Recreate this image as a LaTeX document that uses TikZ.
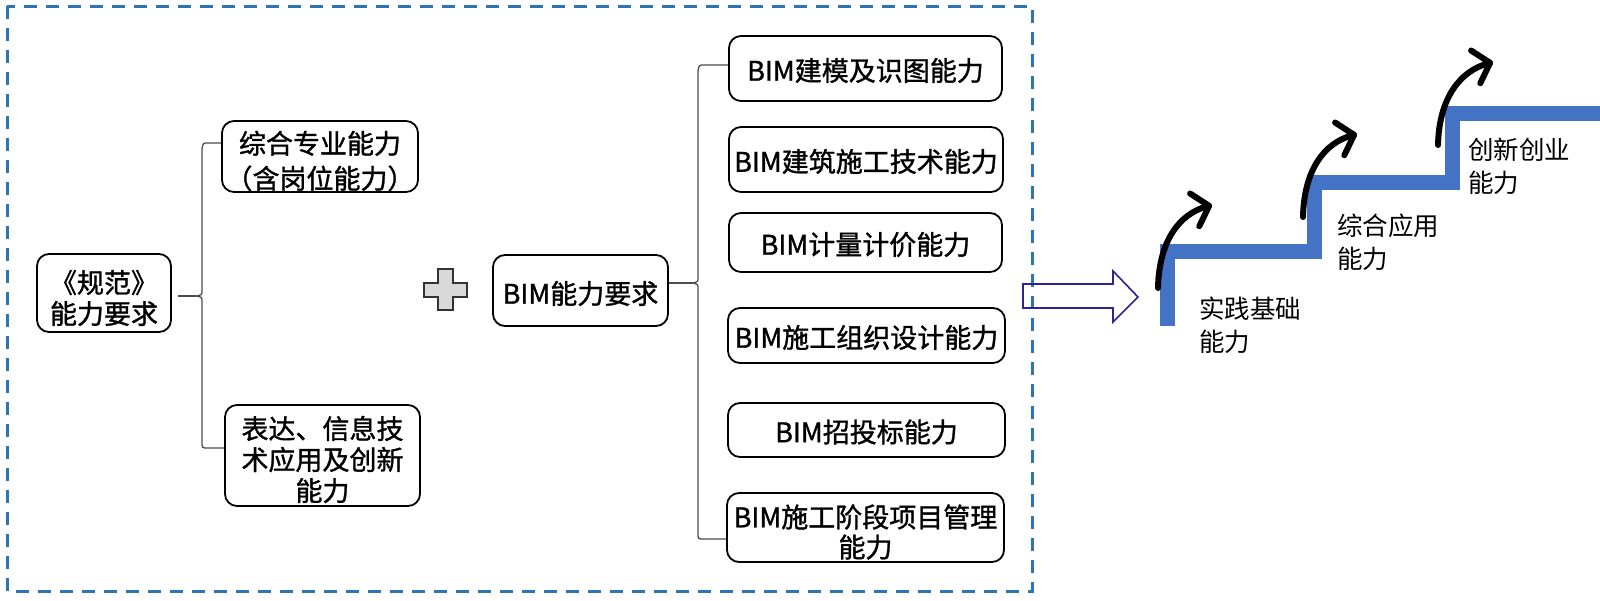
\documentclass[tikz,border=0pt]{standalone}
\usepackage{fontspec}
\newfontfamily\cjk{Noto Sans CJK SC}
\newfontfamily\cjkb{Noto Sans CJK SC}[FakeBold=1.2]
\usetikzlibrary{arrows.meta}
\definecolor{frameblue}{RGB}{46,117,182}
\definecolor{stairblue}{RGB}{68,114,196}
\definecolor{navyline}{RGB}{43,35,150}
\definecolor{plusgray}{RGB}{217,217,217}
\begin{document}
\begin{tikzpicture}[x=1pt,y=-1pt,
  box/.style={draw=black, line width=1.8pt, rounded corners=12pt, inner sep=0pt},
  boxtext/.style={align=center, inner sep=0pt, font=\cjkb\fontsize{27}{31}\selectfont},
  brace/.style={draw=black!70, line width=1.3pt},
  frame/.style={draw=frameblue, line width=3pt, dash pattern=on 13pt off 9pt},
  stair/.style={draw=stairblue, line width=15pt, line join=miter, line cap=butt},
  rise/.style={draw=black, line width=6pt, line cap=round,
    -{Straight Barb[length=15pt, width=34pt, round]}},
  steptext/.style={anchor=west, align=left, inner sep=0pt, font=\cjk\fontsize{25.5}{33}\selectfont},
  hollow/.style={draw=navyline, line width=1.6pt, line join=miter},
  plus/.style={draw=black!80, fill=plusgray, line width=2pt}
]
\useasboundingbox (0,0) rectangle (1600,600);

% dashed frame
\draw[frame] (7,6) rectangle (1032,591);

% left group
\node[box, minimum width=134, minimum height=78] (root) at (104,293) {};
\node[boxtext] (rootT) at (104,298) {《规范》\\能力要求};
\node[box, minimum width=196, minimum height=71] (g1) at (320,156.5) {};
\node[boxtext, font=\cjkb\fontsize{27}{35}\selectfont] (g1T) at (320,161) {综合专业能力\\（含岗位能力）};
\node[box, minimum width=195, minimum height=101] (g2) at (322.5,455.5) {};
\node[boxtext] (g2T) at (322.5,459.5) {表达、信息技\\术应用及创新\\能力};

\coordinate (t1) at (196,296);
\draw[brace] (root.east |- t1) ++(6,0) -- (t1);
\draw[brace] (g1.west |- 0,143) -- (208,143) .. controls (203,143) .. (202,149) -- (202,290)
  .. controls (202,295) .. (t1) .. controls (202,297) .. (202,302) -- (202,442)
  .. controls (202,448) .. (208,448) -- (g2.west |- 0,448);

% plus sign
\draw[plus] (437.5,269) -- (452.5,269) -- (452.5,283) -- (467,283) -- (467,297) -- (452.5,297)
  -- (452.5,310) -- (437.5,310) -- (437.5,297) -- (424,297) -- (424,283) -- (437.5,283) -- cycle;

% BIM group
\node[box, minimum width=175, minimum height=71] (bim) at (580.5,290.5) {};
\node[boxtext] (bimT) at (580.5,293.5) {BIM能力要求};
\node[box, minimum width=273, minimum height=65] (c1) at (865.5,68.5) {};
\node[boxtext] (c1T) at (865.5,70.5) {BIM建模及识图能力};
\node[box, minimum width=274, minimum height=65] (c2) at (866,159.5) {};
\node[boxtext] (c2T) at (866,161.5) {BIM建筑施工技术能力};
\node[box, minimum width=273, minimum height=59] (c3) at (865.5,242.5) {};
\node[boxtext] (c3T) at (865.5,244.5) {BIM计量计价能力};
\node[box, minimum width=277, minimum height=55] (c4) at (866.5,335.5) {};
\node[boxtext] (c4T) at (866.5,337.5) {BIM施工组织设计能力};
\node[box, minimum width=277, minimum height=54] (c5) at (866.5,430) {};
\node[boxtext] (c5T) at (866.5,432) {BIM招投标能力};
\node[box, minimum width=277, minimum height=69] (c6) at (865.5,527.5) {};
\node[boxtext, font=\cjkb\fontsize{27}{30}\selectfont] (c6T) at (865.5,532) {BIM施工阶段项目管理\\能力};

\coordinate (t2) at (692,283);
\draw[brace] (bim.east |- t2) -- (t2);
\draw[brace] (c1.west |- 0,65) -- (704,65) .. controls (699,65) .. (698,71) -- (698,277)
  .. controls (698,282) .. (t2) .. controls (698,284) .. (698,289) -- (698,533)
  .. controls (698,539) .. (704,539) -- (c6.west |- 0,539);

% hollow arrow
\draw[hollow] (1023,284) -- (1113,284) -- (1113,271) -- (1138,297) -- (1113,322) -- (1113,308) -- (1023,308) -- cycle;

% staircase
\draw[stair] (1167,326) -- (1167,251) -- (1314,251) -- (1314,182) -- (1452,182) -- (1452,113) -- (1600,113);

% rising arrows
\coordinate (a1s) at (1158,288); \coordinate (a1e) at (1212,205);
\coordinate (a2s) at (1303,217); \coordinate (a2e) at (1357,134);
\coordinate (a3s) at (1438,145); \coordinate (a3e) at (1493,62);
\draw[rise] (a1s) .. controls (1159,240) and (1180,214) .. (a1e);
\draw[rise] (a2s) .. controls (1304,169) and (1325,143) .. (a2e);
\draw[rise] (a3s) .. controls (1439,97) and (1461,71) .. (a3e);

% step labels
\node[steptext] (s1) at (1199,325) {实践基础\\能力};
\node[steptext] (s2) at (1337,242.5) {综合应用\\能力};
\node[steptext] (s3) at (1468,166.5) {创新创业\\能力};
\end{tikzpicture}
\end{document}
